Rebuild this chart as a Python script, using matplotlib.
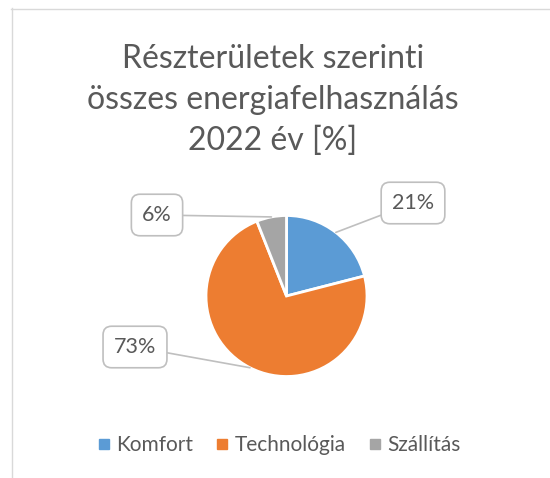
import numpy as np
import matplotlib.pyplot as plt
from matplotlib.lines import Line2D

plt.rcParams['font.family'] = ['Lato', 'DejaVu Sans']

categories = ['Komfort', 'Technológia', 'Szállítás']
values = [21, 73, 6]
labels = ['21%', '73%', '6%']
colors = ['#5B9BD5', '#ED7D31', '#A5A5A5']
title = 'Részterületek szerinti\nösszes energiafelhasználás\n2022 év [%]'

W, H = 550, 478
fig = plt.figure(figsize=(W / 100, H / 100), dpi=100)
ax = fig.add_axes([0, 0, 1, 1])

txt = '#595959'
cx, cy, r = 286.5, H - 296, 80.5

wedges, _ = ax.pie(values, colors=colors, startangle=90, counterclock=False,
                   center=(cx, cy), radius=r, frame=True,
                   wedgeprops=dict(edgecolor='white', linewidth=2))
ax.set_xlim(0, W)
ax.set_ylim(0, H)
ax.set_aspect('equal')
ax.axis('off')

# label box centres (pixels)
offsets = {'21%': (413, H - 203), '73%': (135, H - 347), '6%': (157, H - 215)}
for w, lab in zip(wedges, labels):
    mid = np.deg2rad((w.theta1 + w.theta2) / 2)
    xy = (cx + r * np.cos(mid), cy + r * np.sin(mid))
    ax.annotate(lab, xy=xy, xytext=offsets[lab], ha='center', va='center',
                fontsize=15.5, color=txt,
                bbox=dict(boxstyle='round,pad=0.5,rounding_size=0.4', fc='white',
                          ec='#BFBFBF', lw=1.2),
                arrowprops=dict(arrowstyle='-', color='#BFBFBF', lw=1.2,
                                shrinkA=0, shrinkB=0))

fig.text(273 / W, 1 - 100 / H, title, ha='center', va='center', fontsize=23,
         color=txt, linespacing=1.47)

# chart border
fig.add_artist(Line2D([11.5 / W, 11.5 / W], [0, 1 - 8 / H], color='#D9D9D9', lw=1))
fig.add_artist(Line2D([11 / W, 1], [1 - 8.5 / H, 1 - 8.5 / H], color='#D9D9D9', lw=1))

handles = [Line2D([], [], marker='s', ls='', markersize=7, color=c) for c in colors]
fig.legend(handles, categories, loc='center', bbox_to_anchor=(278 / W, 1 - 445 / H),
           ncol=3, frameon=False, fontsize=15, labelcolor=txt, handletextpad=0.2,
           columnspacing=1.0, handlelength=0.8)

fig.savefig('out.png', dpi=100)
